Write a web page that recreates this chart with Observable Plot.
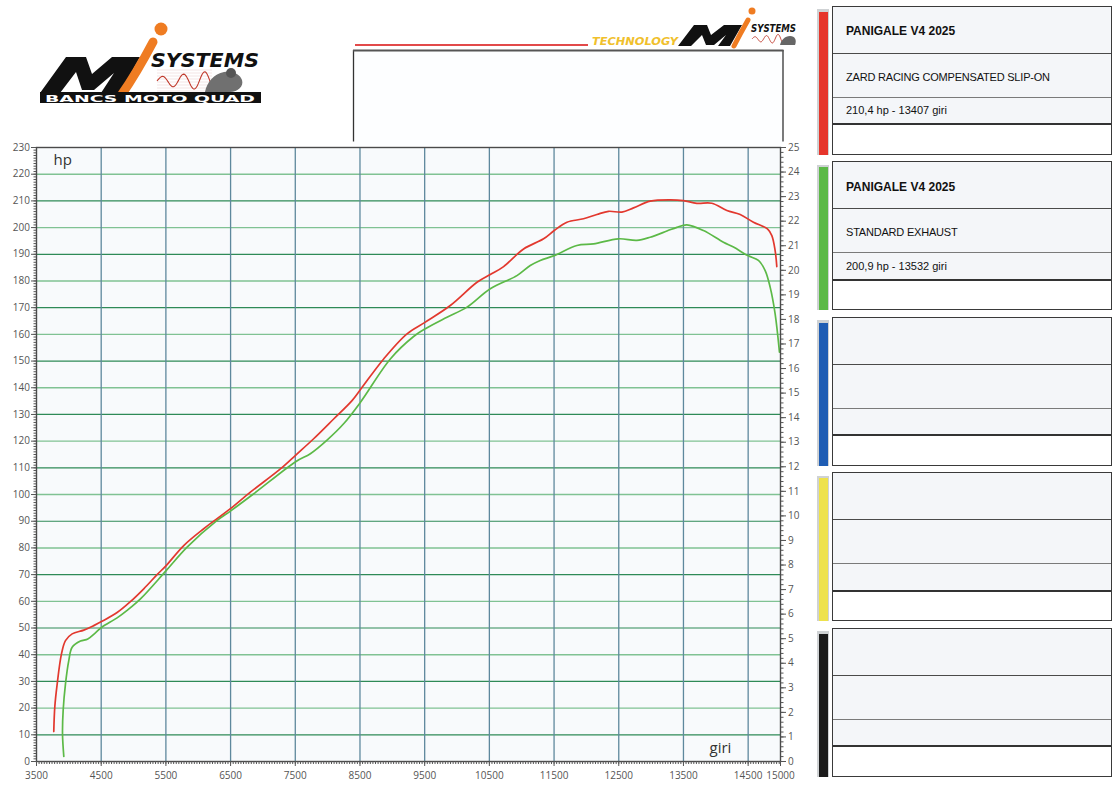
<!DOCTYPE html>
<html><head><meta charset="utf-8">
<script src="https://cdn.jsdelivr.net/npm/d3@7"></script>
<script src="https://cdn.jsdelivr.net/npm/@observablehq/plot@0.6"></script>
<style>
body{margin:0;background:#fff;}
#page{position:relative;width:1116px;height:794px;overflow:hidden;font-family:"Liberation Sans",Arial,sans-serif;background:#fff;}
#chart{position:absolute;left:0;top:140px;}
#deco{position:absolute;left:0;top:0;}
.card{position:absolute;left:832px;width:280px;height:149px;border:1.4px solid #3a3a3a;box-sizing:border-box;background:#fff;}
.row{position:absolute;left:0;right:0;box-sizing:border-box;display:flex;align-items:center;padding-left:13px;color:#111;background:#f4f6f9;white-space:nowrap;}
.r1{top:0;height:47px;border-bottom:1px solid #4a4a4a;font-size:12px;font-weight:bold;padding-top:3px;}
.r2{top:47px;height:44px;border-bottom:1.5px solid #7a7a7a;font-size:11px;padding-top:3px;letter-spacing:-0.2px;}
.r3{top:91px;height:27.5px;border-bottom:2px solid #333;font-size:11px;}
.r4{top:118.5px;bottom:0;background:#fff;}
.shadow{position:absolute;left:816.5px;width:12px;background:#cfd2d4;}
.bar{position:absolute;left:819px;width:9px;}
</style>
</head><body>
<div id="page">
  <svg id="deco" width="1116" height="146"></svg>
  <div id="chart"></div>
  <div id="legend"></div>
</div>
<script>
// ---- data ----
const rpmRed = [3767,3783,3820,3886,3948,4051,4231,4385,4504,4746,4952,5158,5364,5504,5776,6085,6497,6806,7270,7512,7784,8093,8377,8516,8866,9227,9510,9896,10309,10514,10720,11029,11338,11503,11699,11955,12162,12342,12548,12728,12986,13295,13500,13707,13939,14171,14377,14582,14798,14866,14917,14943];
const hpRed  = [11.2,20.5,29.1,40.3,45.3,47.8,49.2,50.9,52.4,55.8,59.9,64.7,70.0,73.4,80.9,87.2,94.7,100.9,109.6,114.9,120.9,128.3,135.2,139.6,150.8,160.2,164.6,170.8,179.5,182.4,185.4,192.0,195.8,198.9,202.0,203.3,204.9,206.1,205.8,207.4,209.9,210.4,210.1,209.1,209.1,206.4,204.9,202.0,199.5,197.0,191.4,185.4];
const rpmGreen = [3922,3902,3912,3948,3999,4051,4180,4293,4411,4504,4746,4901,5107,5504,5828,6292,6497,6858,7512,7733,7991,8247,8505,8969,9329,9510,9845,10154,10514,10926,11132,11286,11503,11853,12110,12496,12780,12986,13244,13398,13552,13809,14118,14273,14495,14659,14763,14840,14917,14984];
const hpGreen  = [1.9,10.4,19.1,29.1,37.8,42.8,45.1,45.9,48.2,50.2,53.8,56.6,60.9,71.5,80.3,90.3,93.8,100.3,112.4,115.3,120.4,126.5,134.5,150.8,159.2,162.1,166.4,170.2,177.1,182.0,185.8,187.7,189.5,193.3,193.9,195.8,195.2,196.4,198.7,200.1,201.0,198.9,194.5,192.7,189.5,187.7,183.9,177.7,167.7,153.3];

const xTickLabels = [3500,4500,5500,6500,7500,8500,9500,10500,11500,12500,13500,14500,15000];
const xGridLines = [4500,5500,6500,7500,8500,9500,10500,11500,12500,13500,14500];
const yTickLabels = d3.range(0, 231, 10);
const rightTickLabels = d3.range(0, 26, 1);
const rightFactor = 230 / 25;

const legendColors = ["#e6352b","#5cb947","#1f5db4","#eee24c","#1b1b1b"];
const legendTitles = ["PANIGALE V4 2025","PANIGALE V4 2025","","",""];
const legendDescs  = ["ZARD RACING COMPENSATED SLIP-ON","STANDARD EXHAUST","","",""];
const legendPeaks  = ["210,4 hp - 13407 giri","200,9 hp - 13532 giri","","",""];

// ---- chart ----
const red = rpmRed.map((r,i)=>({rpm:r, hp:hpRed[i]}));
const green = rpmGreen.map((r,i)=>({rpm:r, hp:hpGreen[i]}));
const gridLight = yTickLabels.filter(v => v>0 && v<230 && v%20===0);
const gridDark = yTickLabels.filter(v => v>0 && v<230 && v%20!==0);
const xMinor = d3.range(3500, 15001, 40);
const yMinor = d3.range(0, 231, 1);
const rMinor = d3.range(0, 126, 1).map(v => v/5*rightFactor);

const chart = Plot.plot({
  width: 800, height: 654,
  marginLeft: 36, marginRight: 20, marginTop: 7, marginBottom: 33,
  x: {domain: [3500, 15000]},
  y: {domain: [0, 230]},
  style: {background: "transparent", fontFamily: "'Open Sans', sans-serif", fontSize: "10px", color: "#555"},
  marks: [
    Plot.frame({fill: "#f8fafc", stroke: null}),
    Plot.ruleY(gridLight, {stroke: "#80c293", strokeWidth: 1.4}),
    Plot.ruleY(gridDark, {stroke: "#2f8a57", strokeWidth: 1.2}),
    Plot.ruleX(xGridLines, {stroke: "#5e889d", strokeWidth: 1.3}),
    Plot.line(green, {x: "rpm", y: "hp", stroke: "#5cb947", strokeWidth: 1.7, curve: "catmull-rom"}),
    Plot.line(red, {x: "rpm", y: "hp", stroke: "#e2382e", strokeWidth: 1.7, curve: "catmull-rom"}),
    Plot.frame({stroke: "#4a4a4a", strokeWidth: 1.4}),
    Plot.axisY({ticks: yMinor, tickSize: 2.5, tickFormat: () => "", label: null, stroke: "#555"}),
    Plot.axisY({ticks: yTickLabels, tickSize: 5, tickPadding: 1.5, label: null, stroke: "#555", fill: "#555"}),
    Plot.axisY({anchor: "right", ticks: rMinor, tickSize: 2.5, tickFormat: () => "", label: null, stroke: "#555"}),
    Plot.axisY({anchor: "right", ticks: rightTickLabels.map(v => v*rightFactor), tickSize: 5, tickPadding: 2.5,
      tickFormat: d => String(Math.round(d/rightFactor)), label: null, stroke: "#555", fill: "#555"}),
    Plot.axisX({ticks: xMinor, tickSize: 3, tickFormat: () => "", label: null, stroke: "#555"}),
    Plot.axisX({ticks: xTickLabels, tickSize: 5, tickPadding: 5, tickFormat: d => String(d), label: null, stroke: "#555", fill: "#555"}),
    Plot.text(["hp"], {frameAnchor: "top-left", dx: 17, dy: 7, textAnchor: "start", fontSize: 15, fill: "#333"}),
    Plot.text(["giri"], {frameAnchor: "bottom-right", dx: -71, dy: -9, textAnchor: "start", fontSize: 15, fill: "#333"})
  ]
});
document.getElementById("chart").appendChild(chart);

// ---- legend cards ----
const legend = document.getElementById("legend");
legendColors.forEach((c, i) => {
  const top = 5.5 + i*155.6;
  const sh = document.createElement("div");
  sh.className = "shadow"; sh.style.top = (top+3.5)+"px"; sh.style.height = (149-3.5)+"px";
  legend.appendChild(sh);
  const bar = document.createElement("div");
  bar.className = "bar"; bar.style.top = (top+6)+"px"; bar.style.height = (149-6)+"px"; bar.style.background = c;
  legend.appendChild(bar);
  const card = document.createElement("div");
  card.className = "card"; card.style.top = top+"px";
  card.innerHTML = `<div class="row r1">${legendTitles[i]}</div><div class="row r2">${legendDescs[i]}</div><div class="row r3">${legendPeaks[i]}</div><div class="row r4"></div>`;
  legend.appendChild(card);
});

// ---- decorative logos / header box ----
const deco = d3.select("#deco");
function wave(x0, x1, yc, amp0, amp1, cycles) {
  const pts = d3.range(0, 61).map(k => {
    const t = k/60;
    return [x0 + (x1-x0)*t, yc - (amp0 + (amp1-amp0)*t) * Math.sin(t*cycles*2*Math.PI)];
  });
  return d3.line()(pts);
}
// left logo
const L = deco.append("g");
L.append("g").selectAll("line").data(d3.range(0,8)).join("line")
  .attr("x1",157).attr("x2",212).attr("y1",d=>70+d*3).attr("y2",d=>70+d*3).attr("stroke","#e7c9c9").attr("stroke-width",0.5);
L.append("path").attr("d", wave(157, 212, 81, 4, 10, 2.6)).attr("fill","none").attr("stroke","#c0392b").attr("stroke-width",1.1);
L.append("path").attr("d","M205,92 C207,82 214,74 224,72 C232,70 240,74 242,80 C244,86 238,92 230,92 Z").attr("fill","#707070");
L.append("circle").attr("cx",231).attr("cy",73).attr("r",5).attr("fill","#555");
L.append("polygon").attr("points","40,93 66,57 86,57 92,74 112,57 140,57 120,93 101,93 114,73 94,90 82,90 76,72 60,93").attr("fill","#111");
L.append("path").attr("d","M122,94 Q136,74 153,42").attr("fill","none").attr("stroke","#ef7c22").attr("stroke-width",9).attr("stroke-linecap","round");
L.append("circle").attr("cx",161).attr("cy",29).attr("r",6.5).attr("fill","#ef7c22");
L.append("text").attr("x",151).attr("y",67).attr("font-family","DejaVu Sans").attr("font-weight","bold").attr("font-style","italic")
  .attr("font-size",20).attr("textLength",108).attr("lengthAdjust","spacingAndGlyphs").attr("fill","#111").text("SYSTEMS");
L.append("rect").attr("x",40).attr("y",92).attr("width",221).attr("height",11).attr("fill","#111");
L.append("text").attr("x",45).attr("y",101.5).attr("font-family","DejaVu Sans").attr("font-weight","bold")
  .attr("font-size",9.5).attr("textLength",210).attr("lengthAdjust","spacingAndGlyphs").attr("fill","#fff").text("BANCS MOTO QUAD");

// header box
deco.append("rect").attr("x",353.5).attr("y",50).attr("width",429.5).attr("height",100).attr("fill","#fdfeff").attr("stroke","none");
deco.append("line").attr("x1",353.5).attr("x2",353.5).attr("y1",50).attr("y2",141.5).attr("stroke","#333").attr("stroke-width",1.3);
deco.append("line").attr("x1",783).attr("x2",783).attr("y1",50).attr("y2",141.5).attr("stroke","#333").attr("stroke-width",1.3);
deco.append("line").attr("x1",353).attr("x2",783.5).attr("y1",50.5).attr("y2",50.5).attr("stroke","#555").attr("stroke-width",2);
deco.append("line").attr("x1",355).attr("x2",588).attr("y1",45).attr("y2",45).attr("stroke","#e24a4a").attr("stroke-width",1.8);
// right logo
const R = deco.append("g");
R.append("text").attr("x",592).attr("y",45).attr("font-family","DejaVu Sans").attr("font-weight","bold").attr("font-style","italic")
  .attr("font-size",10).attr("textLength",86).attr("lengthAdjust","spacingAndGlyphs").attr("fill","#f0c02c").text("TECHNOLOGY");
R.append("polygon").attr("points","678,46 694,25 707,25 711,35 724,25 742,25 730,46 718,46 726,35 714,45 706,45 702,35 691,46").attr("fill","#111");
R.append("path").attr("d","M734,46 Q740,34 748,20").attr("fill","none").attr("stroke","#ef7c22").attr("stroke-width",5).attr("stroke-linecap","round");
R.append("circle").attr("cx",752).attr("cy",11).attr("r",3.5).attr("fill","#ef7c22");
R.append("text").attr("x",751).attr("y",32).attr("font-family","DejaVu Sans").attr("font-weight","bold").attr("font-style","italic")
  .attr("font-size",10).attr("textLength",45).attr("lengthAdjust","spacingAndGlyphs").attr("fill","#111").text("SYSTEMS");
R.append("path").attr("d", wave(752, 782, 39, 2, 5, 2.6)).attr("fill","none").attr("stroke","#c0392b").attr("stroke-width",0.9);
R.append("path").attr("d","M780,45 C781,40 785,36 790,36 C795,36 797,40 795,45 Z").attr("fill","#666");
</script>
</body></html>
